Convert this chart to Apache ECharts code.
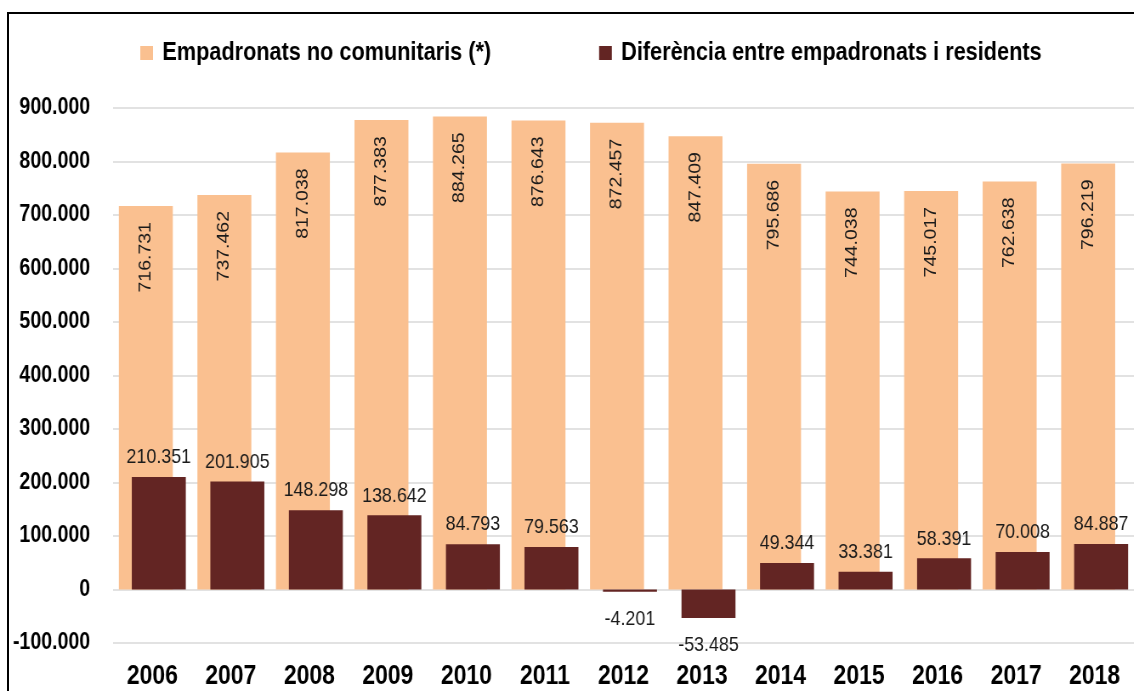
<!doctype html>
<html>
<head>
<meta charset="UTF-8">
<title>Empadronats no comunitaris</title>
<script src="https://cdn.jsdelivr.net/npm/echarts@6/dist/echarts.min.js"></script>
<style>
  html, body { margin: 0; padding: 0; background: #fff; overflow: hidden; }
  #frame { position: absolute; left: 7px; top: 12px; width: 1200px; height: 760px;
           border-top: 2px solid #000; border-left: 2px solid #000; }
  /* la font original és estreta (tipus Arial Narrow): comprimim en horitzontal */
  #main { position: absolute; left: 0; top: 0; width: 1334px; height: 691px;
          transform: scaleX(0.85); transform-origin: 0 0; }
</style>
</head>
<body>
<div id="frame"></div>
<div id="main"></div>
<script type="text/javascript">
// dades
var anys = ['2006', '2007', '2008', '2009', '2010', '2011', '2012', '2013', '2014', '2015', '2016', '2017', '2018'];
var empadronats = [716731, 737462, 817038, 877383, 884265, 876643, 872457, 847409, 795686, 744038, 745017, 762638, 796219];
var diferencia = [210351, 201905, 148298, 138642, 84793, 79563, -4201, -53485, 49344, 33381, 58391, 70008, 84887];
var nomSeries = ['Empadronats no comunitaris (*)', 'Diferència entre empadronats i residents'];

// format amb punt de milers
function fmt(v) {
    var neg = v < 0;
    var s = String(Math.abs(Math.round(v)));
    s = s.replace(/\B(?=(\d{3})+(?!\d))/g, '.');
    return (neg ? '-' : '') + s;
}

var myChart = echarts.init(document.getElementById('main'));

var font = '"Liberation Sans", Arial, sans-serif';

var option = {
    animation: false,
    textStyle: { fontFamily: font },
    legend: {
        top: 35,
        left: 160,
        itemWidth: 15,
        itemHeight: 14,
        itemGap: 127,
        icon: 'rect',
        textStyle: { fontFamily: font, fontSize: 25.5, fontWeight: 'bold', color: '#000', padding: [0, 0, 0, 6] },
        data: nomSeries
    },
    grid: {
        left: 133,
        width: 1219,
        top: 108,
        bottom: 48,
        containLabel: false
    },
    xAxis: {
        type: 'category',
        data: anys,
        axisLine: { show: false },
        axisTick: { show: false },
        axisLabel: { margin: 20, fontSize: 27, fontWeight: 'bold', color: '#000', fontFamily: font }
    },
    yAxis: {
        type: 'value',
        min: -100000,
        max: 900000,
        interval: 100000,
        axisLine: { show: false },
        axisTick: { show: false },
        splitLine: { lineStyle: { color: '#d9d9d9', width: 1.5 } },
        axisLabel: {
            margin: 27,
            fontSize: 23,
            fontWeight: 'bold',
            color: '#000',
            fontFamily: font,
            formatter: function (v) { return fmt(v); }
        }
    },
    series: [
        {
            name: nomSeries[0],
            type: 'bar',
            barWidth: 63.5,
            barGap: '-76%',
            itemStyle: { color: '#FAC090' },
            label: {
                show: true,
                position: 'insideTop',
                distance: 16,
                rotate: 90,
                align: 'right',
                verticalAlign: 'middle',
                fontSize: 19.5,
                color: '#1a1a1a',
                fontFamily: font,
                formatter: function (p) { return fmt(p.value); }
            },
            data: empadronats
        },
        {
            name: nomSeries[1],
            type: 'bar',
            barWidth: 63.5,
            itemStyle: { color: '#632523' },
            label: {
                show: true,
                position: 'top',
                distance: 9,
                fontSize: 21,
                color: '#1a1a1a',
                fontFamily: font,
                formatter: function (p) { return fmt(p.value); }
            },
            data: diferencia.map(function (v) {
                if (v < 0) {
                    return { value: v, label: { position: 'bottom', distance: 17 } };
                }
                return v;
            })
        }
    ]
};

myChart.setOption(option);
</script>
</body>
</html>
